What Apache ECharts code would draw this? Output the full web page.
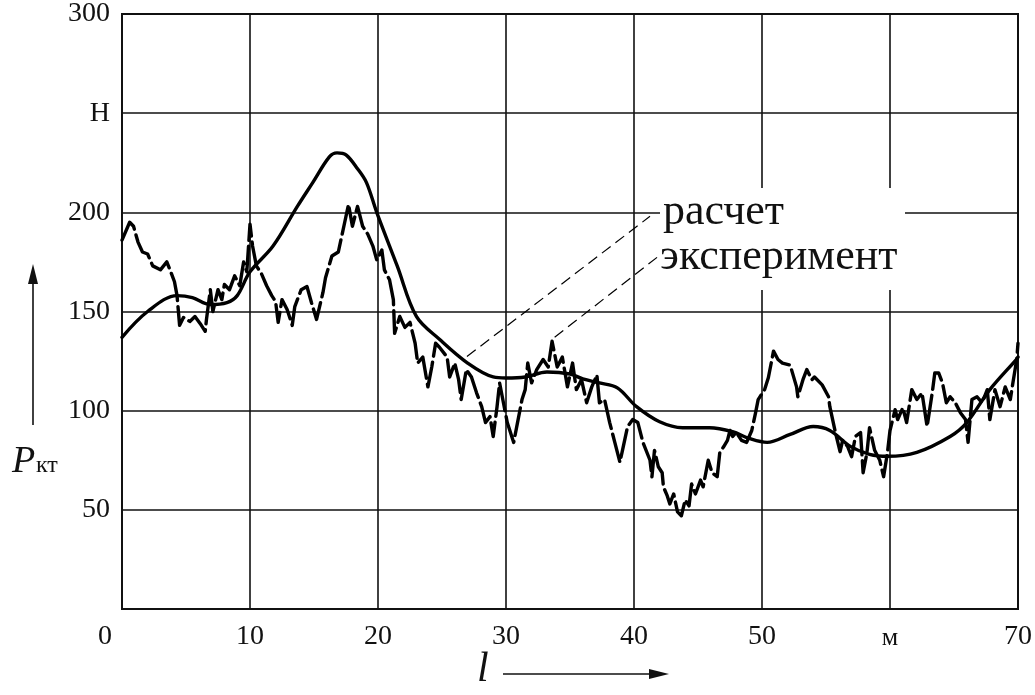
<!DOCTYPE html>
<html>
<head>
<meta charset="utf-8">
<script src="https://cdn.jsdelivr.net/npm/echarts@6/dist/echarts.min.js"></script>
<style>
html, body { margin: 0; padding: 0; background: #fff; }
#main { width: 1035px; height: 695px; }
</style>
</head>
<body>
<div id="main"></div>
<script>
// tick labels
var xTickValues = [0, 10, 20, 30, 40, 50, 60, 70];
var xTickLabels = ['0', '10', '20', '30', '40', '50', 'м', '70'];
var yTickValues = [0, 50, 100, 150, 200, 250, 300];
var yTickLabels = ['', '50', '100', '150', '200', 'Н', '300'];

// расчет (smooth curve)
var calcX = [0, 2, 4.3, 5.5, 6.9, 8.2, 9, 10, 11.8, 13.7, 14.9, 16.2, 16.8, 17.5, 18.4, 19.1, 19.9, 21.5, 23, 24.8,
  27, 29, 30, 31.5, 33.2, 35, 36, 37.3, 38.7, 40.2, 42, 43.8, 45.9, 47.7, 49, 50.4, 52.2, 54, 55.3, 56.9,
  58.4, 59.8, 62.1, 64.7, 66, 67.8, 69.9, 70];
var calcY = [137, 150, 158, 157, 153.5, 154.5, 158, 170, 183, 203, 215, 228, 230, 229, 222, 215, 200, 173, 147.5, 136,
  124, 117, 116.5, 117, 119.5, 118.5, 116, 114, 111.5, 102, 94.4, 91.4, 91.4, 89.4, 86, 84, 88, 92, 90, 82,
  78, 77, 79, 87, 94, 110.6, 126, 127];

// эксперимент (measured, jagged)
var expX = [0, 0.6, 0.9, 1.25, 1.6, 2, 2.4, 3, 3.5, 3.75, 4.1, 4.3, 4.5, 4.8, 5.3, 5.7, 6.1, 6.5, 6.6, 6.9,
  7.1, 7.5, 7.8, 8, 8.4, 8.8, 9.2, 9.5, 9.75, 10, 10.2, 10.5, 10.9, 11.3, 11.7, 12, 12.2, 12.5, 12.9, 13.3,
  13.5, 14, 14.45, 14.8, 15.2, 15.7, 15.9, 16.4, 16.9, 17.4, 17.7, 18, 18.4, 18.8, 19.2, 19.6, 19.9, 20.3, 20.5, 20.9,
  21.2, 21.3, 21.7, 22.1, 22.5, 22.9, 23.1, 23.5, 23.9, 24.2, 24.5, 24.8, 25.4, 25.6, 26, 26.3, 26.5, 26.9, 27.3, 27.7,
  28.1, 28.4, 28.75, 29, 29.3, 29.5, 29.8, 30.1, 30.6, 30.9, 31.25, 31.5, 31.7, 32, 32.4, 32.9, 33.3, 33.6, 34, 34.4,
  34.8, 35.2, 35.5, 35.9, 36.3, 36.7, 37.1, 37.3, 37.7, 38.1, 38.5, 38.9, 39.1, 39.5, 39.9, 40.3, 40.7, 41.25, 41.4, 41.6,
  41.9, 42.2, 42.3, 42.6, 42.8, 43.1, 43.4, 43.7, 44, 44.3, 44.5, 44.8, 45.2, 45.4, 45.8, 46.1, 46.5, 46.7, 47, 47.3,
  47.5, 47.7, 48, 48.4, 48.8, 49.2, 49.5, 49.7, 50.2, 50.5, 50.9, 51.25, 51.6, 52.2, 52.7, 52.8, 53.2, 53.5, 53.9, 54.1,
  54.7, 55.2, 55.3, 55.7, 56.1, 56.3, 56.7, 57, 57.3, 57.7, 57.9, 58.2, 58.4, 58.8, 59.2, 59.5, 59.8, 60, 60.4, 60.6,
  61, 61.3, 61.7, 62.1, 62.5, 62.9, 63.3, 63.5, 63.8, 64.1, 64.4, 64.7, 65.1, 65.5, 65.9, 66.1, 66.4, 66.8, 67.2, 67.6,
  67.8, 68.2, 68.6, 69, 69.4, 69.6, 69.9, 70];
var expY = [186, 195, 193, 185, 180, 179, 173, 171, 175, 171, 165, 158, 143, 147, 145, 147.5, 144, 140, 146, 161,
  150, 161, 156, 163.6, 161, 168, 163, 175, 170, 194, 183, 173, 169, 163, 158, 155, 144.5, 156, 151, 143,
  152.5, 161, 162.6, 154.5, 146, 159.6, 167, 178, 180, 195, 204, 193, 203, 193, 189, 183, 176, 181, 171, 166,
  156, 139, 147.5, 142, 144.5, 134, 124, 127, 112, 122, 134, 132, 127, 117, 124, 115.6, 105.6, 120.7, 117, 109,
  102, 94, 97, 87, 102, 114, 104, 94, 84, 94, 105.6, 110.6, 124, 114, 120.7, 125.8, 122, 135, 122, 127,
  112, 124, 110.6, 115.6, 104, 112, 118, 104, 105.6, 94, 84, 74, 80, 92, 95.5, 94, 84, 75, 66.7, 80,
  71.7, 68.7, 61.6, 57, 53, 58, 49, 47, 55, 52, 63, 58, 65, 61.6, 75, 68.7, 66.7, 78.8, 81.8, 85,
  90, 87, 89, 85, 84, 90, 99, 105.6, 110.6, 116.7, 130, 125.8, 124, 123, 112, 107, 115.6, 120.7, 115.6, 117,
  113, 107, 102, 90, 79.3, 85, 81.8, 76.8, 87, 89, 68.7, 78.8, 91.4, 80, 75, 66.7, 78.8, 90, 100.5, 95.5,
  101.5, 94, 110.6, 105.6, 109, 92, 109, 119, 119, 114, 104, 107, 104, 99, 95.5, 84, 105.6, 107, 104, 110.6,
  95.5, 110.6, 102, 112, 105.6, 114, 125.8, 134];

// leader lines from the labels to the curves: [from, to] in data units
var leaderCalc = [[26.95, 127.3], [41.25, 198]];
var leaderExp = [[33.8, 137], [41.8, 177.3]];

var serif = '"Liberation Serif", "DejaVu Serif", serif';

function pairs(xs, ys) {
  var out = [];
  for (var i = 0; i < xs.length; i++) out.push([xs[i], ys[i]]);
  return out;
}

var myChart = echarts.init(document.getElementById('main'), null, { renderer: 'canvas' });
var option = {
  animation: false,
  backgroundColor: '#fff',
  grid: {
    left: 122, right: 17, top: 14, bottom: 86,
    show: true, borderColor: '#111', borderWidth: 2
  },
  xAxis: {
    type: 'value', min: 0, max: 70, interval: 10,
    axisLine: { show: true, lineStyle: { color: '#111', width: 2 } },
    axisTick: { show: false },
    splitLine: { show: true, lineStyle: { color: '#111', width: 1.6 } },
    axisLabel: {
      margin: 14, color: '#111', fontFamily: serif, fontSize: 28,
      formatter: function (v) {
        var i = xTickValues.indexOf(v);
        if (i < 0) return '';
        if (v === 0) return '{z|' + xTickLabels[i] + '}';
        if (xTickLabels[i] === 'м') return '{m|м}';
        return xTickLabels[i];
      },
      rich: {
        z: { fontFamily: serif, fontSize: 28, color: '#111', padding: [0, 34, 0, 0] },
        m: { fontFamily: serif, fontSize: 26, color: '#111', padding: [2, 0, 0, 0] }
      }
    }
  },
  yAxis: {
    type: 'value', min: 0, max: 300, interval: 50,
    axisLine: { show: true, lineStyle: { color: '#111', width: 2 } },
    axisTick: { show: false },
    splitLine: { show: true, lineStyle: { color: '#111', width: 1.6 } },
    axisLabel: {
      margin: 12, color: '#111', fontFamily: serif, fontSize: 28,
      padding: [7, 0, 0, 0],
      formatter: function (v) {
        var i = yTickValues.indexOf(v);
        return i < 0 ? '' : yTickLabels[i];
      }
    }
  },
  series: [
    {
      name: 'расчет',
      type: 'line',
      data: pairs(calcX, calcY),
      smooth: 0.35,
      symbol: 'none',
      z: 3,
      lineStyle: { color: '#000', width: 3.4, cap: 'round', join: 'round' },
      markLine: {
        silent: true,
        symbol: ['none', 'none'],
        label: { show: false },
        lineStyle: { color: '#000', width: 1.2, type: [11, 6] },
        data: [
          [{ coord: leaderCalc[0] }, { coord: leaderCalc[1] }],
          [{ coord: leaderExp[0] }, { coord: leaderExp[1] }]
        ]
      }
    },
    {
      name: 'эксперимент',
      type: 'line',
      data: pairs(expX, expY),
      symbol: 'none',
      z: 4,
      lineStyle: { color: '#000', width: 3.4, type: [28, 6], cap: 'round', join: 'round' }
    }
  ],
  graphic: [
    // white box behind the labels (gridlines are cut there)
    { type: 'rect', z: 50, shape: { x: 660, y: 188, width: 245, height: 102 }, style: { fill: '#fff' } },
    { type: 'text', z: 51, x: 663, y: 212,
      style: { text: 'расчет', font: '44px ' + serif, fill: '#111', verticalAlign: 'middle' } },
    { type: 'text', z: 51, x: 660, y: 257,
      style: { text: 'эксперимент', font: '44px ' + serif, fill: '#111', verticalAlign: 'middle' } },
    // y axis name
    { type: 'line', z: 51, shape: { x1: 33, y1: 425, x2: 33, y2: 280 }, style: { stroke: '#111', lineWidth: 1.6 } },
    { type: 'polygon', z: 51, shape: { points: [[33, 264], [28, 284], [38, 284]] }, style: { fill: '#111' } },
    { type: 'text', z: 51, x: 12, y: 462,
      style: { text: 'P', font: 'italic 38px ' + serif, fill: '#111', verticalAlign: 'middle' } },
    { type: 'text', z: 51, x: 36, y: 466,
      style: { text: 'кт', font: '24px ' + serif, fill: '#111', verticalAlign: 'middle' } },
    // x axis name
    { type: 'text', z: 51, x: 477, y: 670,
      style: { text: 'l', font: 'italic 42px ' + serif, fill: '#111', verticalAlign: 'middle' } },
    { type: 'line', z: 51, shape: { x1: 503, y1: 674, x2: 652, y2: 674 }, style: { stroke: '#111', lineWidth: 1.6 } },
    { type: 'polygon', z: 51, shape: { points: [[669, 674], [649, 669], [649, 679]] }, style: { fill: '#111' } }
  ]
};
myChart.setOption(option);
</script>
</body>
</html>
